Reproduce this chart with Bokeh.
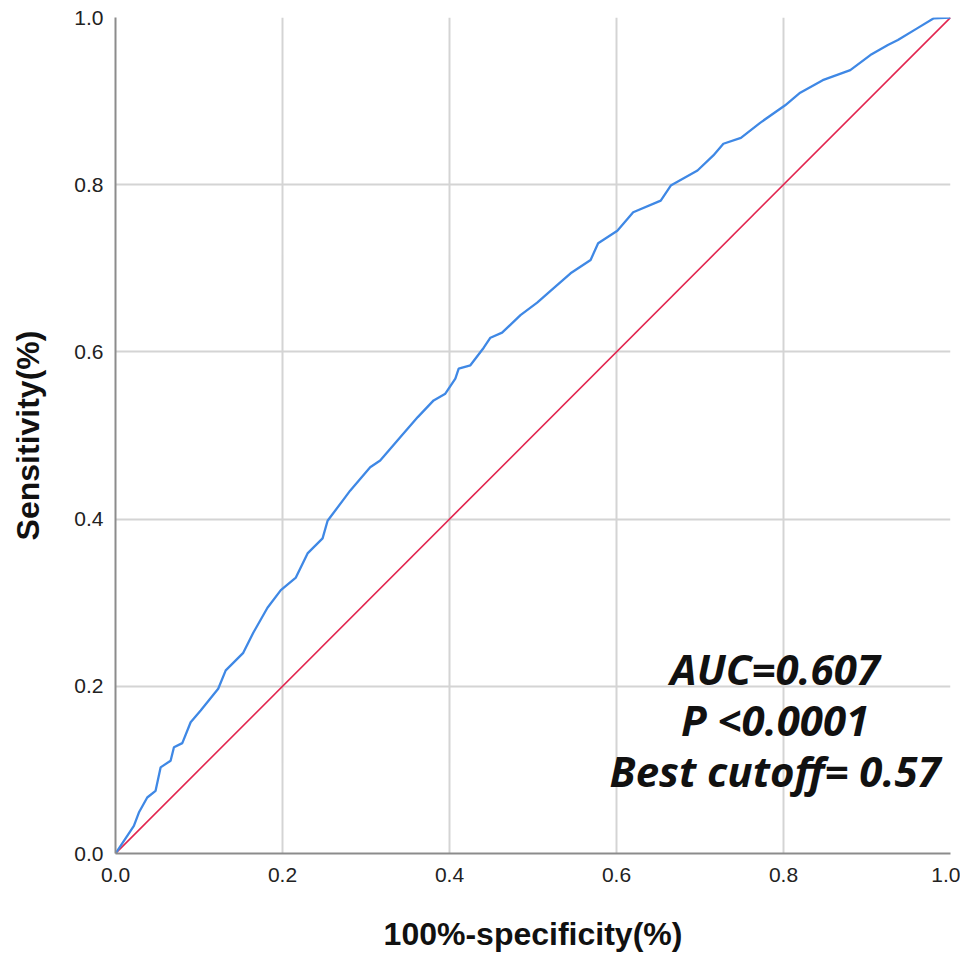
from bokeh.plotting import figure
from bokeh.models import Label, Range1d, FixedTicker
from bokeh.embed import file_html
from bokeh.resources import INLINE

# ROC curve
fpr = [0.0, 0.022, 0.028, 0.038, 0.048, 0.054, 0.066, 0.070, 0.080, 0.090, 0.102,
       0.123, 0.132, 0.153, 0.165, 0.182, 0.198, 0.216, 0.230, 0.248, 0.254, 0.275,
       0.281, 0.305, 0.317, 0.341, 0.362, 0.381, 0.395, 0.407, 0.411, 0.425, 0.441,
       0.449, 0.463, 0.485, 0.505, 0.521, 0.545, 0.569, 0.578, 0.601, 0.620, 0.653,
       0.665, 0.697, 0.716, 0.728, 0.749, 0.772, 0.802, 0.820, 0.847, 0.880, 0.904,
       0.925, 0.937, 0.960, 0.980, 1.0]
tpr = [0.0, 0.033, 0.049, 0.067, 0.075, 0.103, 0.111, 0.127, 0.132, 0.157, 0.171,
       0.197, 0.219, 0.240, 0.264, 0.294, 0.315, 0.330, 0.359, 0.377, 0.398, 0.426,
       0.434, 0.462, 0.470, 0.498, 0.522, 0.542, 0.550, 0.568, 0.580, 0.584, 0.605,
       0.617, 0.623, 0.644, 0.659, 0.673, 0.694, 0.710, 0.730, 0.745, 0.767, 0.781,
       0.799, 0.817, 0.835, 0.849, 0.856, 0.874, 0.895, 0.910, 0.925, 0.937, 0.955,
       0.967, 0.973, 0.987, 0.999, 1.0]
ref_x = [0.0, 1.0]
ref_y = [0.0, 1.0]
ticks = [0.0, 0.2, 0.4, 0.6, 0.8, 1.0]
annotations = ["AUC=0.607", "P <0.0001", "Best cutoff= 0.57"]
ann_x = 0.790
ann_y = [0.221, 0.160, 0.099]

p = figure(width=960, height=956, output_backend="svg", toolbar_location=None,
           x_range=Range1d(0, 1), y_range=Range1d(0, 1),
           min_border_left=115, min_border_right=10, min_border_top=17, min_border_bottom=103)
p.outline_line_color = None
p.background_fill_color = "white"

for ax in (p.xaxis, p.yaxis):
    ax.ticker = FixedTicker(ticks=ticks)
    ax.major_label_overrides = {t: f"{t:.1f}" for t in ticks}
    ax.major_tick_line_color = None
    ax.minor_tick_line_color = None
    ax.axis_line_color = "#8c8c8c"
    ax.axis_line_width = 2
    ax.major_label_text_font = "Liberation Sans"
    ax.major_label_text_font_size = "21px"
    ax.major_label_text_color = "#222222"
    ax.axis_label_text_font = "Liberation Sans"
    ax.axis_label_text_font_size = "32px"
    ax.axis_label_text_font_style = "bold"
    ax.axis_label_text_color = "#111111"

p.xaxis.axis_label = "100%-specificity(%)"
p.yaxis.axis_label = "Sensitivity(%)"
p.xaxis.major_label_standoff = 8
p.yaxis.major_label_standoff = 6
p.xaxis.axis_label_standoff = 31
p.yaxis.axis_label_standoff = 25

p.xgrid.ticker = FixedTicker(ticks=ticks)
p.ygrid.ticker = FixedTicker(ticks=ticks)
p.grid.grid_line_color = "#d4d4d4"
p.grid.grid_line_width = 2

p.line(ref_x, ref_y, line_color="#e2254f", line_width=1.6)
p.line(fpr, tpr, line_color="#3f88e5", line_width=2.3)

for t, yy in zip(annotations, ann_y):
    p.add_layout(Label(x=ann_x, y=yy, text=t, text_align="center", text_baseline="middle",
                       text_font="Open Sans", text_font_style="bold italic",
                       text_font_size="42px", text_color="#111111"))

open("out.html", "w").write(file_html(p, INLINE))
